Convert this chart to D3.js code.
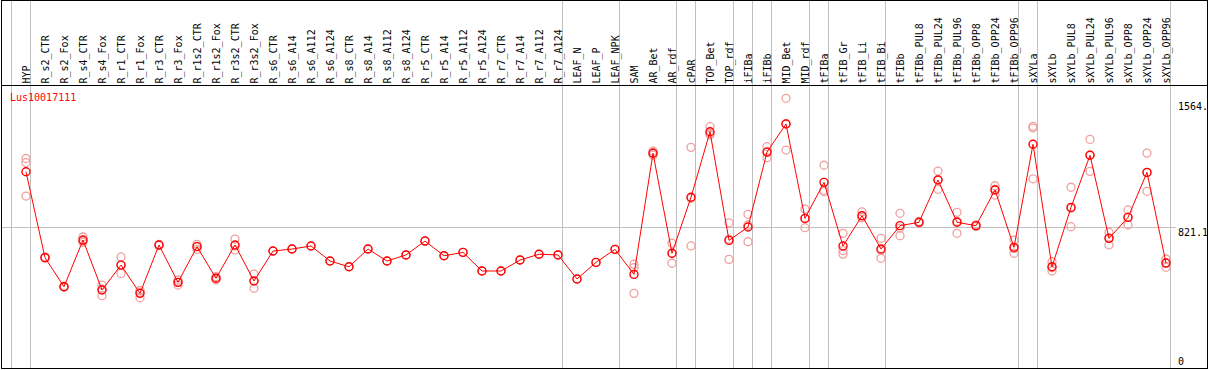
<!DOCTYPE html>
<html>
<head>
  <meta charset="utf-8" />
  <title>Lus10017111</title>
  <style type="text/css">
    body { margin: 0; background: #fff; }
    svg text { font-family: 'DejaVu Sans Mono', monospace; font-size: 10px; }
  </style>
</head>
<body>
<div id="graph"></div>
<script src="https://cdn.jsdelivr.net/npm/d3@7"></script>
<script>
// sample names, one column each
var categories = ["HYP","R_s2_CTR","R_s2_Fox","R_s4_CTR","R_s4_Fox","R_r1_CTR","R_r1_Fox","R_r3_CTR","R_r3_Fox",
  "R_r1s2_CTR","R_r1s2_Fox","R_r3s2_CTR","R_r3s2_Fox","R_s6_CTR","R_s6_A14","R_s6_A112","R_s6_A124",
  "R_s8_CTR","R_s8_A14","R_s8_A112","R_s8_A124","R_r5_CTR","R_r5_A14","R_r5_A112","R_r5_A124",
  "R_r7_CTR","R_r7_A14","R_r7_A112","R_r7_A124","LEAF_N","LEAF_P","LEAF_NPK","SAM","AR_Bet","AR_rdf",
  "cPAR","TOP_Bet","TOP_rdf","iFIBa","iFIBb","MID_Bet","MID_rdf","tFIBa","tFIB_Gr","tFIB_Li","tFIB_Bi",
  "tFIBb","tFIBb_PUL8","tFIBb_PUL24","tFIBb_PUL96","tFIBb_OPP8","tFIBb_OPP24","tFIBb_OPP96",
  "sXYLa","sXYLb","sXYLb_PUL8","sXYLb_PUL24","sXYLb_PUL96","sXYLb_OPP8","sXYLb_OPP24","sXYLb_OPP96"];

// mean expression per sample
var means = [1152,644,472,748,453,600,433,719,498,709,522,719,506,683,695,713,624,590,695,624,660,742,655,675,565,
  565,630,664,660,518,616,693,545,1261,670,1001,1388,746,825,1268,1434,876,1089,713,892,695,
  833,853,1103,853,833,1044,705,1314,590,941,1249,758,882,1148,612];

// replicate values per sample
var replicates = [
  [1230,1206,1008],[641,648,644],[470,475,472],[766,742,735],[482,419,458],[648,551,600],[451,407,440],
  [722,716,719],[512,482,498],[723,693,711],[531,512,522],[754,689,714],[547,463,508],[683],[695],
  [713],[624],[590],[695],[624],[660],[742],[655],[675],[565],[565],[630],[664],[660],[518],[616],[693],
  [605,585,433],[1274,1264,1250],[729,611,670],[1296,713,994],[1418,1369,1378],[850,634,754],
  [900,738,837],[1300,1235,1270],[1586,1280,1436],[931,821,876],[1190,1034,1043],[788,665,686],
  [915,880,882],[758,640,687],[906,774,819],[858,850,851],[1156,1048,1105],[912,788,859],[838,828,833],
  [1069,1014,1049],[748,670,697],[1420,1410,1110],[620,565,585],[1060,827,936],[1343,1154,1250],
  [794,719,761],[926,837,883],[1262,1036,1146],[636,587,613]];

// column groups: a grey divider follows these sample indices
var dividers = [-1,0,28,31,34,35,37,38,39,41,42,45,52,53,60];

var yTickValues = [0, 821.1, 1564];
var yTickLabels = ["0", "821.1", "1564."];
var geneName = "Lus10017111";

var width = 1209, height = 370;

var svg = d3.select("#graph").append("svg")
    .attr("width", width)
    .attr("height", height);

var x = d3.scaleLinear().domain([0, categories.length - 1]).range([26, 1166]);
var y = d3.scaleLinear().domain([0, 1564]).range([366.6, 102]);

// grey dividers
svg.selectAll("line.div")
    .data(dividers)
  .enter().append("line")
    .attr("x1", function(d) { return Math.floor(x(d) + 4.5) + 0.5; })
    .attr("x2", function(d) { return Math.floor(x(d) + 4.5) + 0.5; })
    .attr("y1", 0).attr("y2", 369)
    .attr("stroke", "#c0c0c0")
    .attr("shape-rendering", "crispEdges");

// grey horizontal at the middle tick
svg.append("line")
    .attr("x1", 1).attr("x2", 1176)
    .attr("y1", Math.floor(y(yTickValues[1])) + 0.5)
    .attr("y2", Math.floor(y(yTickValues[1])) + 0.5)
    .attr("stroke", "#c0c0c0")
    .attr("shape-rendering", "crispEdges");

// header separator and frame
svg.append("line")
    .attr("x1", 1).attr("x2", 1208)
    .attr("y1", 85.5).attr("y2", 85.5)
    .attr("stroke", "#000")
    .attr("shape-rendering", "crispEdges");

svg.append("rect")
    .attr("x", 1.5).attr("y", 0.5)
    .attr("width", 1206).attr("height", 368)
    .attr("fill", "none")
    .attr("stroke", "#000")
    .attr("shape-rendering", "crispEdges");

// sample labels
svg.selectAll("text.cat")
    .data(categories)
  .enter().append("text")
    .attr("class", "cat")
    .attr("transform", function(d, i) { return "translate(" + (x(i) + 3.5) + ",83.5) rotate(-90)"; })
    .attr("fill", "#000")
    .text(function(d) { return d; });

// y tick labels
var clip = svg.append("clipPath").attr("id", "clipY")
  .append("rect").attr("x", 0).attr("y", 0).attr("width", 1207).attr("height", 369);

svg.append("g").attr("clip-path", "url(#clipY)")
  .selectAll("text")
    .data(yTickValues)
  .enter().append("text")
    .attr("x", 1178)
    .attr("y", function(d) { return Math.min(y(d) + 8, 365); })
    .attr("fill", "#000")
    .text(function(d, i) { return yTickLabels[i]; });

// gene name
svg.append("text")
    .attr("x", 10).attr("y", 101)
    .attr("fill", "#ff0000")
    .text(geneName);

// replicate points
var repData = [];
replicates.forEach(function(r, i) {
  r.forEach(function(v) { repData.push({i: i, v: v}); });
});

svg.selectAll("circle.rep")
    .data(repData)
  .enter().append("circle")
    .attr("cx", function(d) { return x(d.i); })
    .attr("cy", function(d) { return y(d.v); })
    .attr("r", 4)
    .attr("fill", "none")
    .attr("stroke", "#f0a0a0")
    .attr("stroke-width", 1.3);

// mean line
var line = d3.line()
    .x(function(d, i) { return x(i); })
    .y(function(d) { return y(d); });

svg.append("path")
    .datum(means)
    .attr("d", line)
    .attr("fill", "none")
    .attr("stroke", "#ff0000")
    .attr("stroke-width", 1);

svg.selectAll("circle.mean")
    .data(means)
  .enter().append("circle")
    .attr("cx", function(d, i) { return x(i); })
    .attr("cy", function(d) { return y(d); })
    .attr("r", 4)
    .attr("fill", "none")
    .attr("stroke", "#ff0000")
    .attr("stroke-width", 1.4);
</script>
</body>
</html>
